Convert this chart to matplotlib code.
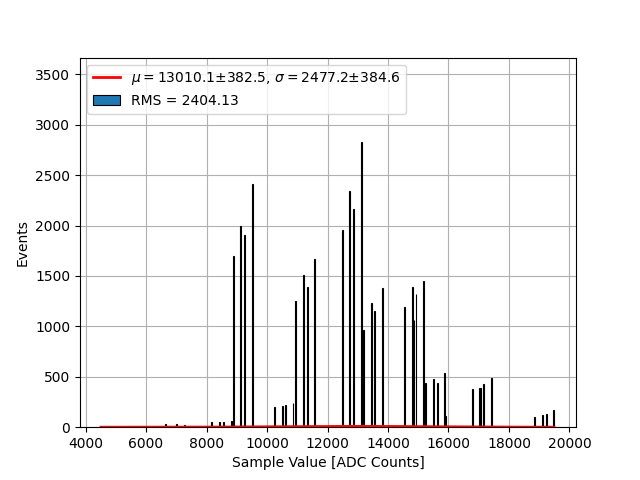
import numpy as np
import matplotlib
matplotlib.use("Agg")
import matplotlib.pyplot as plt

# spike positions [ADC] and counts
spike_adc = [
    6651, 7015, 7266, 8172, 8423, 8555, 8833, 8886, 9117, 9250, 9514,
    10241, 10506, 10605, 10860, 10936, 11200, 11332, 11577,
    12489, 12721, 12853, 13131, 13183, 13448, 13547, 13812,
    14539, 14803, 14860, 14926, 15167, 15230, 15497, 15630, 15858, 15894,
    16787, 17018, 17051, 17150, 17415,
    18850, 19101, 19246, 19464,
]
spike_counts = [
    27, 30, 20, 50, 55, 50, 60, 1700, 2000, 1910, 2410,
    200, 206, 223, 243, 1250, 1510, 1390, 1668,
    1960, 2346, 2167, 2825, 964, 1229, 1150, 1379,
    1190, 1389, 1067, 1323, 1449, 436, 476, 436, 541, 110,
    376, 389, 392, 425, 489,
    97, 117, 126, 166,
]

fit_mu, fit_mu_err = 13010.1, 382.5
fit_sigma, fit_sigma_err = 2477.2, 384.6
fit_amp = 8.0
fit_range = (4512, 19487)
rms = 2404.13

fig, ax = plt.subplots(figsize=(6.4, 4.8), dpi=100)
ax.bar(spike_adc, spike_counts, width=20, color="C0", edgecolor="black",
       linewidth=0.8, label=f"RMS = {rms:.2f}", zorder=2)

xfit = np.linspace(fit_range[0], fit_range[1], 500)
yfit = fit_amp * np.exp(-0.5 * ((xfit - fit_mu) / fit_sigma) ** 2)
ax.plot(xfit, yfit, color="red", linewidth=2, zorder=3,
        label=rf"$\mu = ${fit_mu:.1f}±{fit_mu_err:.1f}, "
              rf"$\sigma = ${fit_sigma:.1f}±{fit_sigma_err:.1f}")

ax.set_xlim(3818, 20215)
ax.set_ylim(0, 3666)
ax.grid(True)
ax.set_axisbelow(True)
ax.set_xlabel("Sample Value [ADC Counts]")
ax.set_ylabel("Events")
ax.legend(loc="upper left")

fig.savefig("out.png", dpi=100)
